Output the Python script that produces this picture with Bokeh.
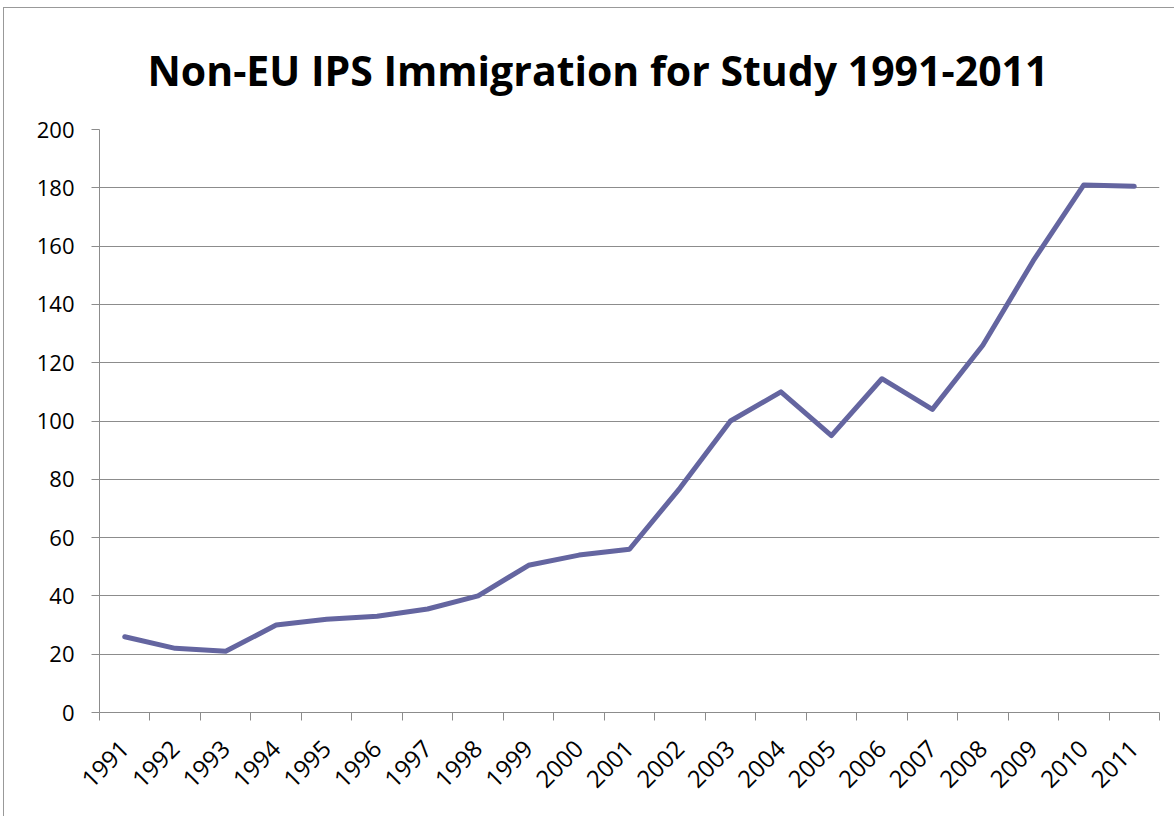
import math
from bokeh.plotting import figure
from bokeh.models import FixedTicker, Range1d, Title
from bokeh.embed import file_html
from bokeh.resources import INLINE

years = ["1991", "1992", "1993", "1994", "1995", "1996", "1997", "1998", "1999", "2000",
         "2001", "2002", "2003", "2004", "2005", "2006", "2007", "2008", "2009", "2010", "2011"]
values = [26, 22, 21, 30, 32, 33, 35.5, 40, 50.5, 54, 56, 77, 100, 110, 95, 114.5, 104,
          126, 155, 181, 180.5]
y_ticks = [0, 20, 40, 60, 80, 100, 120, 140, 160, 180, 200]

xs = [i + 0.5 for i in range(len(years))]

FONT = "Open Sans"
GRAY = "#8c8c8c"

p = figure(width=1173, height=812, output_backend="svg", toolbar_location=None,
           x_range=Range1d(0, len(years)), y_range=Range1d(0, 200),
           min_border_left=95, min_border_right=15, min_border_top=120, min_border_bottom=109,
           frame_width=1060, frame_height=583,
           margin=(7, 0, 0, 3),
           styles={"border-left": "1px solid #999999", "border-top": "1px solid #999999"})

p.title = Title(text="Non-EU IPS Immigration for Study 1991-2011", align="left", offset=48,
                text_font=FONT, text_font_size="41px", text_font_style="bold",
                text_color="#000000", standoff=63)

p.line(xs, values, line_color="#6465a0", line_width=5, line_join="round", line_cap="round")

p.outline_line_color = None
p.xgrid.grid_line_color = None
p.ygrid.grid_line_color = GRAY
p.ygrid.grid_line_width = 1
p.ygrid.ticker = FixedTicker(ticks=y_ticks)

xa = p.xaxis[0]
xa.ticker = FixedTicker(ticks=xs, minor_ticks=list(range(len(years) + 1)))
xa.major_label_overrides = {x: y for x, y in zip(xs, years)}
xa.major_tick_line_color = None
xa.minor_tick_line_color = GRAY
xa.minor_tick_out = 8
xa.minor_tick_in = 0
xa.axis_line_color = GRAY
xa.major_label_orientation = math.pi / 4
xa.major_label_text_font = FONT
xa.major_label_text_font_size = "24px"
xa.major_label_text_color = "#000000"
xa.major_label_standoff = 24

ya = p.yaxis[0]
ya.ticker = FixedTicker(ticks=y_ticks)
ya.axis_line_color = GRAY
ya.major_tick_line_color = GRAY
ya.major_tick_out = 8
ya.major_tick_in = 0
ya.minor_tick_line_color = None
ya.major_label_text_font = FONT
ya.major_label_text_font_size = "22px"
ya.major_label_text_color = "#000000"
ya.major_label_standoff = 17

open("out.html", "w").write(file_html(p, INLINE))
